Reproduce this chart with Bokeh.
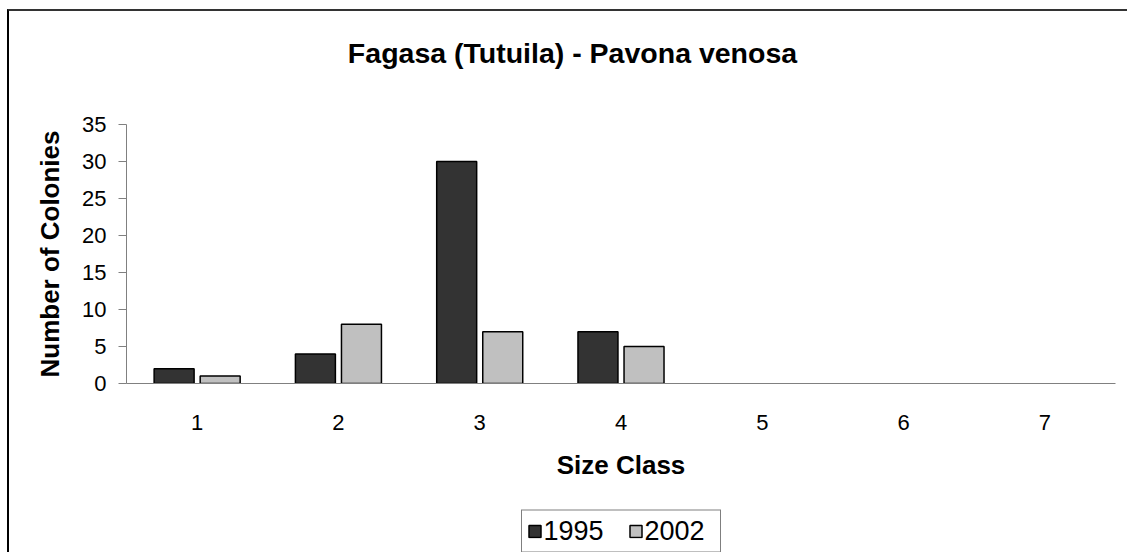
from bokeh.plotting import figure
from bokeh.layouts import column
from bokeh.models import ColumnDataSource, FactorRange, Range1d, Legend, LegendItem, Label, SingleIntervalTicker
from bokeh.transform import dodge
from bokeh.embed import file_html
from bokeh.resources import INLINE

size_classes = ["1", "2", "3", "4", "5", "6", "7"]
y1995 = [2, 4, 30, 7, 0, 0, 0]
y2002 = [1, 8, 7, 5, 0, 0, 0]
series = ["1995", "2002"]
colors = ["#333333", "#c0c0c0"]
title_text = "Fagasa (Tutuila) - Pavona venosa"

FONT = "Liberation Sans"

src = ColumnDataSource(dict(
    x=size_classes, a=y1995, b=y2002,
    la=[1 if v > 0 else 0 for v in y1995],
    lb=[1 if v > 0 else 0 for v in y2002],
))
xr = FactorRange(*size_classes)
xr.range_padding = 0

# title strip
pt = figure(width=1118, height=80, x_range=Range1d(0, 1), y_range=Range1d(0, 1),
            output_backend="svg", toolbar_location=None,
            x_axis_location=None, y_axis_location=None,
            min_border_left=117, min_border_right=12, min_border_top=0, min_border_bottom=0)
pt.grid.visible = False
pt.outline_line_color = None
pt.add_layout(Label(x=446, y=39, x_units="screen", y_units="screen", text=title_text,
                    text_font=FONT, text_font_size="28.5px", text_font_style="bold",
                    text_color="black", text_align="center", text_baseline="middle"))

# main chart
p = figure(width=1118, height=418, x_range=xr, y_range=Range1d(0, 35),
           output_backend="svg", toolbar_location=None,
           min_border_left=117, min_border_right=12, min_border_top=33, min_border_bottom=126)
p.outline_line_color = None
p.xgrid.grid_line_color = None
p.ygrid.grid_line_color = None

p.vbar(x=dodge("x", -0.163, range=xr), top="a", width=0.283, source=src,
       fill_color=colors[0], line_color="black", line_width=1.5, line_alpha="la")
p.vbar(x=dodge("x", 0.163, range=xr), top="b", width=0.283, source=src,
       fill_color=colors[1], line_color="black", line_width=1.5, line_alpha="lb")

p.yaxis.ticker = SingleIntervalTicker(interval=5)
p.yaxis.axis_line_color = "#808080"
p.yaxis.major_tick_line_color = "#808080"
p.yaxis.major_tick_out = 8
p.yaxis.major_tick_in = 0
p.yaxis.minor_tick_line_color = None
p.yaxis.major_label_text_font = FONT
p.yaxis.major_label_text_font_size = "22px"
p.yaxis.major_label_text_color = "black"
p.yaxis.major_label_standoff = 12
p.yaxis.axis_label = "Number of Colonies"
p.yaxis.axis_label_text_font = FONT
p.yaxis.axis_label_text_font_size = "26px"
p.yaxis.axis_label_text_font_style = "bold"
p.yaxis.axis_label_text_color = "black"
p.yaxis.axis_label_standoff = 14

p.xaxis.axis_line_color = "#808080"
p.xaxis.major_tick_line_color = None
p.xaxis.minor_tick_line_color = None
p.xaxis.major_label_text_font = FONT
p.xaxis.major_label_text_font_size = "22px"
p.xaxis.major_label_text_color = "black"
p.xaxis.major_label_standoff = 25
p.xaxis.axis_label = "Size Class"
p.xaxis.axis_label_text_font = FONT
p.xaxis.axis_label_text_font_size = "26px"
p.xaxis.axis_label_text_font_style = "bold"
p.xaxis.axis_label_text_color = "black"
p.xaxis.axis_label_standoff = 17

# legend strip (renderers hidden, used only for the legend swatches)
pl = figure(width=1118, height=43, x_range=xr, y_range=Range1d(100, 101),
            output_backend="svg", toolbar_location=None,
            x_axis_location=None, y_axis_location=None,
            min_border_left=117, min_border_right=12, min_border_top=0, min_border_bottom=0)
pl.grid.visible = False
pl.outline_line_color = None
g1 = pl.vbar(x=dodge("x", -0.163, range=xr), top="a", width=0.283, source=src,
             fill_color=colors[0], line_color="black", line_width=1.5)
g2 = pl.vbar(x=dodge("x", 0.163, range=xr), top="b", width=0.283, source=src,
             fill_color=colors[1], line_color="black", line_width=1.5)
g1.visible = False
g2.visible = False
legend = Legend(items=[LegendItem(label=series[0], renderers=[g1]),
                       LegendItem(label=series[1], renderers=[g2])],
                orientation="horizontal", location="center",
                border_line_color="black", border_line_width=1, background_fill_alpha=0,
                inactive_fill_alpha=0,
                label_text_font=FONT, label_text_font_size="27px", label_text_color="black",
                glyph_width=15, glyph_height=15, label_standoff=2, label_width=70,
                spacing=14, padding=5, margin=0)
pl.add_layout(legend)

layout = column(pt, p, pl, spacing=0)
layout.styles = {"margin-left": "7px", "margin-top": "9px",
                 "border-left": "2px solid black", "border-top": "2px solid #333333"}

open("out.html", "w").write(file_html(layout, INLINE))
